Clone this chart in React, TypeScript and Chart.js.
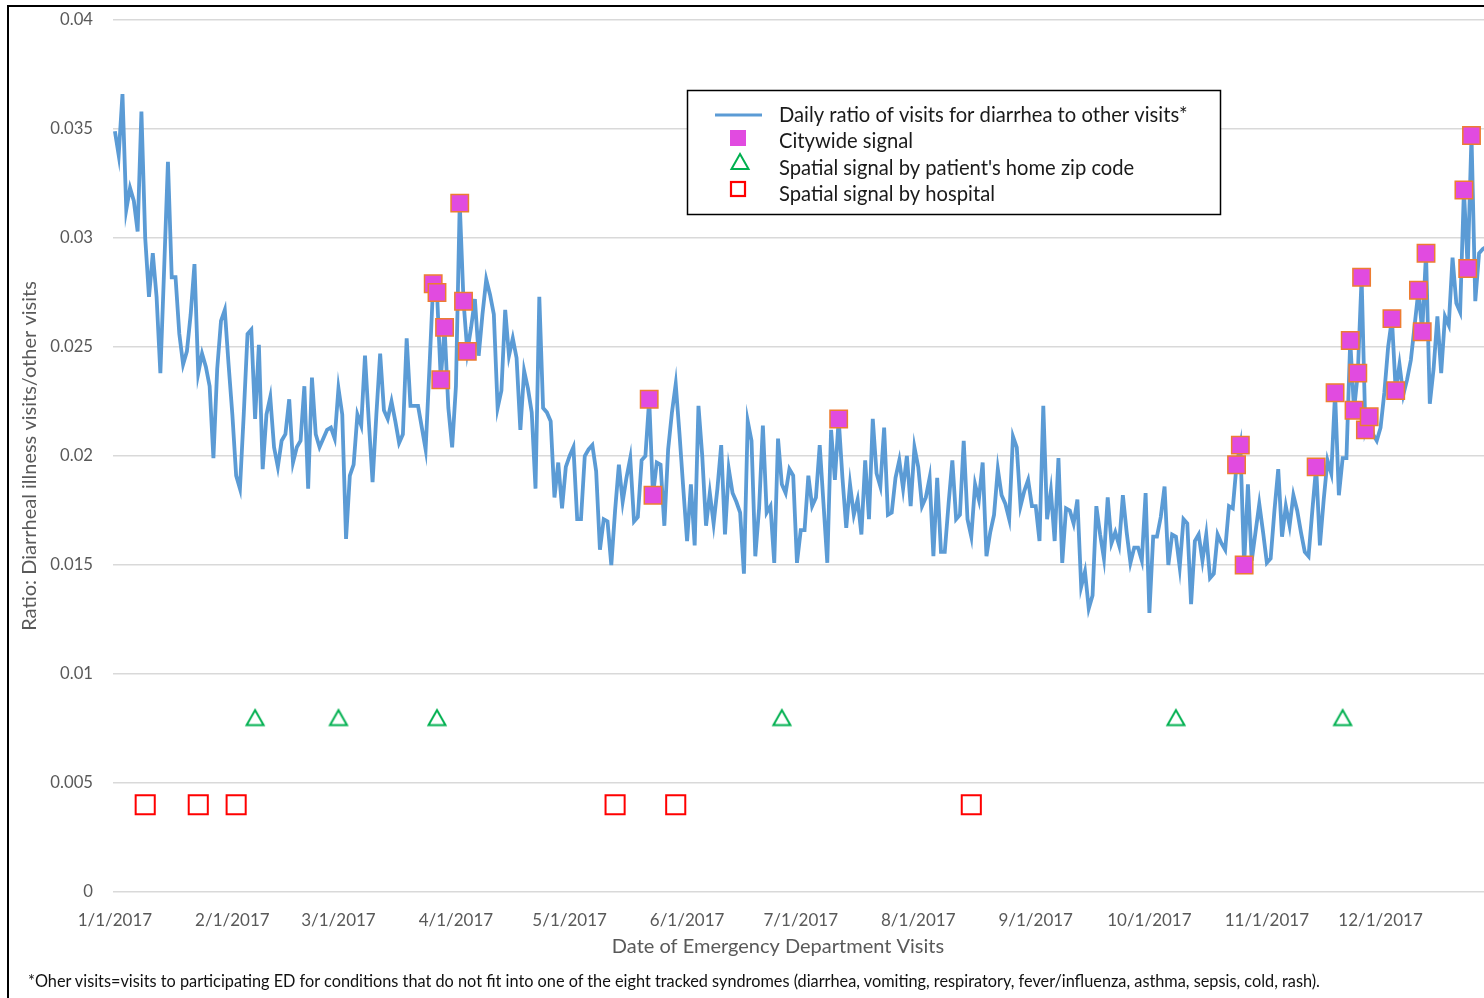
import React, { useEffect, useRef } from 'react';
import { Chart, registerables } from 'chart.js';

Chart.register(...registerables);

// Daily ratio of diarrhea visits to other visits, day 0 = 1/1/2017
const DAILY_RATIO = [
  0.0349, 0.0338, 0.0366, 0.0313, 0.0323, 0.0317, 0.0303, 0.0358, 0.0300, 0.0273,
  0.0293, 0.0273, 0.0238, 0.0286, 0.0335, 0.0282, 0.0282, 0.0256, 0.0242, 0.0248,
  0.0265, 0.0288, 0.0238, 0.0247, 0.0241, 0.0232, 0.0199, 0.0240, 0.0262, 0.0267,
  0.0242, 0.0219, 0.0191, 0.0185, 0.0219, 0.0256, 0.0258, 0.0217, 0.0251, 0.0194,
  0.0219, 0.0227, 0.0204, 0.0195, 0.0207, 0.0210, 0.0226, 0.0197, 0.0204, 0.0207,
  0.0232, 0.0185, 0.0236, 0.0210, 0.0204, 0.0208, 0.0212, 0.0213, 0.0208, 0.0231,
  0.0219, 0.0162, 0.0191, 0.0196, 0.0219, 0.0214, 0.0246, 0.0216, 0.0188, 0.0219,
  0.0247, 0.0221, 0.0217, 0.0225, 0.0216, 0.0206, 0.0210, 0.0254, 0.0223, 0.0223,
  0.0223, 0.0213, 0.0203, 0.0240, 0.0279, 0.0275, 0.0235, 0.0259, 0.0222, 0.0204,
  0.0232, 0.0316, 0.0271, 0.0248, 0.0259, 0.0272, 0.0246, 0.0265, 0.0281, 0.0274,
  0.0265, 0.0222, 0.0230, 0.0267, 0.0246, 0.0254, 0.0245, 0.0212, 0.0239, 0.0231,
  0.0220, 0.0185, 0.0273, 0.0222, 0.0220, 0.0216, 0.0181, 0.0197, 0.0176, 0.0195,
  0.0200, 0.0204, 0.0171, 0.0171, 0.0200, 0.0203, 0.0205, 0.0193, 0.0157, 0.0171,
  0.0170, 0.0150, 0.0175, 0.0196, 0.0179, 0.0190, 0.0199, 0.0170, 0.0172, 0.0198,
  0.0200, 0.0226, 0.0182, 0.0197, 0.0196, 0.0168, 0.0203, 0.0220, 0.0233, 0.0210,
  0.0185, 0.0161, 0.0187, 0.0159, 0.0223, 0.0200, 0.0168, 0.0183, 0.0169, 0.0185,
  0.0205, 0.0164, 0.0194, 0.0183, 0.0179, 0.0174, 0.0146, 0.0216, 0.0207, 0.0154,
  0.0176, 0.0214, 0.0174, 0.0177, 0.0151, 0.0208, 0.0187, 0.0183, 0.0194, 0.0191,
  0.0151, 0.0166, 0.0166, 0.0191, 0.0177, 0.0181, 0.0205, 0.0178, 0.0151, 0.0212,
  0.0189, 0.0217, 0.0190, 0.0167, 0.0187, 0.0173, 0.0180, 0.0164, 0.0198, 0.0171,
  0.0217, 0.0192, 0.0186, 0.0213, 0.0173, 0.0174, 0.0190, 0.0198, 0.0185, 0.0200,
  0.0177, 0.0204, 0.0195, 0.0177, 0.0181, 0.0190, 0.0154, 0.0190, 0.0156, 0.0156,
  0.0178, 0.0198, 0.0171, 0.0173, 0.0207, 0.0171, 0.0163, 0.0187, 0.0180, 0.0197,
  0.0154, 0.0165, 0.0173, 0.0194, 0.0182, 0.0178, 0.0171, 0.0209, 0.0204, 0.0177,
  0.0184, 0.0189, 0.0177, 0.0177, 0.0161, 0.0223, 0.0171, 0.0184, 0.0161, 0.0199,
  0.0151, 0.0176, 0.0175, 0.0169, 0.0180, 0.0140, 0.0147, 0.0130, 0.0136, 0.0177,
  0.0164, 0.0153, 0.0181, 0.0160, 0.0165, 0.0159, 0.0182, 0.0165, 0.0151, 0.0158,
  0.0158, 0.0152, 0.0183, 0.0128, 0.0163, 0.0163, 0.0172, 0.0186, 0.0150, 0.0164,
  0.0163, 0.0149, 0.0171, 0.0169, 0.0132, 0.0161, 0.0164, 0.0152, 0.0164, 0.0144,
  0.0146, 0.0164, 0.0160, 0.0157, 0.0177, 0.0176, 0.0196, 0.0205, 0.0150, 0.0187,
  0.0152, 0.0165, 0.0178, 0.0165, 0.0151, 0.0153, 0.0175, 0.0194, 0.0163, 0.0177,
  0.0168, 0.0182, 0.0175, 0.0165, 0.0156, 0.0154, 0.0175, 0.0195, 0.0159, 0.0180,
  0.0198, 0.0192, 0.0229, 0.0182, 0.0199, 0.0199, 0.0253, 0.0221, 0.0238, 0.0282,
  0.0212, 0.0218, 0.0210, 0.0207, 0.0213, 0.0229, 0.0250, 0.0263, 0.0230, 0.0242,
  0.0228, 0.0235, 0.0244, 0.0260, 0.0276, 0.0257, 0.0293, 0.0224, 0.0240, 0.0264,
  0.0238, 0.0264, 0.0260, 0.0291, 0.0270, 0.0266, 0.0322, 0.0286, 0.0347, 0.0271,
  0.0293, 0.0295, 0.0296,
];

const CITYWIDE_DAYS = [84, 85, 86, 87, 91, 92, 93, 141, 142, 191, 296, 297, 298, 317, 322, 326, 327, 328, 329, 330, 331, 337, 338, 344, 345, 346, 356, 357, 358];
const CITYWIDE_VALUES = [0.0279, 0.0275, 0.0235, 0.0259, 0.0316, 0.0271, 0.0248, 0.0226, 0.0182, 0.0217, 0.0196, 0.0205, 0.0150, 0.0195, 0.0229, 0.0253, 0.0221, 0.0238, 0.0282, 0.0212, 0.0218, 0.0263, 0.0230, 0.0276, 0.0257, 0.0293, 0.0322, 0.0286, 0.0347];

const ZIP_DAYS = [37, 59, 85, 176, 280, 324];
const ZIP_VALUES = [0.008, 0.008, 0.008, 0.008, 0.008, 0.008];

const HOSPITAL_DAYS = [8, 22, 32, 132, 148, 226];
const HOSPITAL_VALUES = [0.004, 0.004, 0.004, 0.004, 0.004, 0.004];

const MONTH_START_DAYS = [0, 31, 59, 90, 120, 151, 181, 212, 243, 273, 304, 334];
const MONTH_LABELS = ['1/1/2017', '2/1/2017', '3/1/2017', '4/1/2017', '5/1/2017', '6/1/2017', '7/1/2017', '8/1/2017', '9/1/2017', '10/1/2017', '11/1/2017', '12/1/2017'];

const Y_TICK_VALUES = [0, 0.005, 0.01, 0.015, 0.02, 0.025, 0.03, 0.035, 0.04];
const Y_TICK_LABELS = ['0', '0.005', '0.01', '0.015', '0.02', '0.025', '0.03', '0.035', '0.04'];

const LEGEND_LABELS = [
  'Daily ratio of visits for diarrhea to other visits*',
  'Citywide signal',
  "Spatial signal by patient's home zip code",
  'Spatial signal by hospital',
];

const X_TITLE = 'Date of Emergency Department Visits';
const Y_TITLE = 'Ratio: Diarrheal illness visits/other visits';
const FOOTNOTE = '*Oher visits=visits to participating ED for conditions that do not fit into one of the eight tracked syndromes (diarrhea, vomiting, respiratory, fever/influenza, asthma, sepsis, cold, rash).';

const FONT = 'Lato, "Open Sans", sans-serif';
const BLUE = '#5B9BD5';
const MAGENTA = '#E14BE0';
const ORANGE = '#ED7D31';
const GREEN = '#00B050';
const RED = '#FF0000';
const AXIS_TEXT = '#595959';

// hollow triangle marker centred on its bounding box
function makeTriangleMarker(): HTMLCanvasElement {
  const c = document.createElement('canvas');
  c.width = 22;
  c.height = 20;
  const g = c.getContext('2d') as CanvasRenderingContext2D;
  g.strokeStyle = GREEN;
  g.lineWidth = 2;
  g.lineJoin = 'miter';
  g.beginPath();
  g.moveTo(11, 2.5);
  g.lineTo(19.5, 17.5);
  g.lineTo(2.5, 17.5);
  g.closePath();
  g.stroke();
  return c;
}

const overlayPlugin = {
  id: 'boxLegend',
  afterDraw(chart: any) {
    const ctx = chart.ctx as CanvasRenderingContext2D;
    ctx.save();

    // x-axis title
    ctx.fillStyle = AXIS_TEXT;
    ctx.font = `20px ${FONT}`;
    ctx.textAlign = 'center';
    ctx.textBaseline = 'middle';
    ctx.fillText(X_TITLE, 778, 947);

    // legend box
    const bx = 687, by = 90, bw = 533, bh = 124;
    ctx.fillStyle = '#ffffff';
    ctx.fillRect(bx, by, bw, bh);
    ctx.strokeStyle = '#000000';
    ctx.lineWidth = 1.5;
    ctx.strokeRect(bx + 0.5, by + 0.5, bw, bh);

    const rows = [115, 141, 168, 194];
    ctx.strokeStyle = BLUE;
    ctx.lineWidth = 3;
    ctx.beginPath();
    ctx.moveTo(715, rows[0]);
    ctx.lineTo(762, rows[0]);
    ctx.stroke();

    ctx.fillStyle = MAGENTA;
    ctx.fillRect(730, rows[1] - 11, 16, 16);

    ctx.strokeStyle = GREEN;
    ctx.lineWidth = 2;
    ctx.beginPath();
    const tx = 740, ty = rows[2] - 6;
    ctx.moveTo(tx, ty - 8);
    ctx.lineTo(tx + 8.5, ty + 7);
    ctx.lineTo(tx - 8.5, ty + 7);
    ctx.closePath();
    ctx.stroke();

    ctx.strokeStyle = RED;
    ctx.lineWidth = 2.2;
    ctx.strokeRect(731, rows[3] - 12, 14, 14);

    ctx.fillStyle = '#1a1a1a';
    ctx.font = `20.2px ${FONT}`;
    ctx.textBaseline = 'middle';
    ctx.textAlign = 'left';
    LEGEND_LABELS.forEach((t, i) => ctx.fillText(t, 779, rows[i]));
    ctx.restore();
  },
};

export default function App() {
  const canvasRef = useRef<HTMLCanvasElement | null>(null);

  useEffect(() => {
    if (!canvasRef.current) return;
    const triangle = makeTriangleMarker();
    const chart = new Chart(canvasRef.current, {
      type: 'line',
      data: {
        datasets: [
          {
            type: 'line',
            label: LEGEND_LABELS[0],
            data: DAILY_RATIO.map((v, i) => ({ x: i, y: v })),
            borderColor: BLUE,
            borderWidth: 3.8,
            pointRadius: 0,
            tension: 0,
            fill: false,
            order: 10,
          },
          {
            type: 'scatter',
            label: LEGEND_LABELS[1],
            data: CITYWIDE_DAYS.map((d, i) => ({ x: d, y: CITYWIDE_VALUES[i] })),
            pointStyle: 'rect',
            pointRadius: 12.3,
            backgroundColor: MAGENTA,
            borderColor: ORANGE,
            borderWidth: 1.5,
            order: 1,
          },
          {
            type: 'scatter',
            label: LEGEND_LABELS[2],
            data: ZIP_DAYS.map((d, i) => ({ x: d, y: ZIP_VALUES[i] })),
            pointStyle: triangle,
            pointRadius: 10,
            backgroundColor: 'rgba(0,0,0,0)',
            borderColor: GREEN,
            borderWidth: 2,
            order: 2,
          },
          {
            type: 'scatter',
            label: LEGEND_LABELS[3],
            data: HOSPITAL_DAYS.map((d, i) => ({ x: d, y: HOSPITAL_VALUES[i] })),
            pointStyle: 'rect',
            pointRadius: 13.5,
            backgroundColor: 'rgba(0,0,0,0)',
            borderColor: RED,
            borderWidth: 2,
            order: 3,
          },
        ],
      },
      options: {
        animation: false,
        responsive: false,
        devicePixelRatio: 1,
        layout: { padding: { top: 20, left: 0, right: 0, bottom: 27 }, autoPadding: false },
        plugins: {
          legend: { display: false },
          tooltip: { enabled: false },
          title: { display: false },
        },
        scales: {
          x: {
            type: 'linear',
            min: -0.5,
            max: 361.3,
            grid: { display: false },
            border: { display: false },
            afterBuildTicks: (scale: any) => {
              scale.ticks = MONTH_START_DAYS.map((v) => ({ value: v }));
            },
            afterFit: (scale: any) => {
              scale.height = 79;
              scale.paddingLeft = 0;
              scale.paddingRight = 0;
            },
            ticks: {
              autoSkip: false,
              maxRotation: 0,
              minRotation: 0,
              padding: 10,
              color: AXIS_TEXT,
              font: { family: FONT, size: 17 },
              callback: (_v: any, i: number) => MONTH_LABELS[i],
            },
            title: { display: false },
          },
          y: {
            type: 'linear',
            min: 0,
            max: 0.04,
            grid: { color: '#D9D9D9', lineWidth: 1.5, drawTicks: false },
            border: { display: false },
            afterBuildTicks: (scale: any) => {
              scale.ticks = Y_TICK_VALUES.map((v) => ({ value: v }));
            },
            afterFit: (scale: any) => {
              scale.width = 113;
              scale.paddingTop = 0;
              scale.paddingBottom = 0;
            },
            ticks: {
              padding: 20,
              color: AXIS_TEXT,
              font: { family: FONT, size: 16.7 },
              callback: (_v: any, i: number) => Y_TICK_LABELS[i],
            },
            title: {
              display: true,
              text: Y_TITLE,
              color: AXIS_TEXT,
              font: { family: FONT, size: 20 },
              padding: { top: 18, bottom: 0 },
            },
          },
        },
      },
      plugins: [overlayPlugin],
    } as any);
    return () => chart.destroy();
  }, []);

  return (
    <div style={{ position: 'fixed', left: 0, top: 0, width: 1484, height: 998, background: '#fff', overflow: 'hidden' }}>
      <canvas ref={canvasRef} width={1484} height={998} style={{ position: 'absolute', left: 0, top: 0, width: 1484, height: 998 }} />
      <div style={{ position: 'absolute', left: 7, top: 5, width: 1477, height: 993, borderLeft: '2px solid #000', borderTop: '2px solid #000', boxSizing: 'border-box', pointerEvents: 'none' }} />
      <div style={{ position: 'absolute', left: 28, top: 971, fontFamily: FONT, fontSize: 16.3, color: '#111', whiteSpace: 'nowrap', lineHeight: '20px' }}>
        {FOOTNOTE}
      </div>
    </div>
  );
}
